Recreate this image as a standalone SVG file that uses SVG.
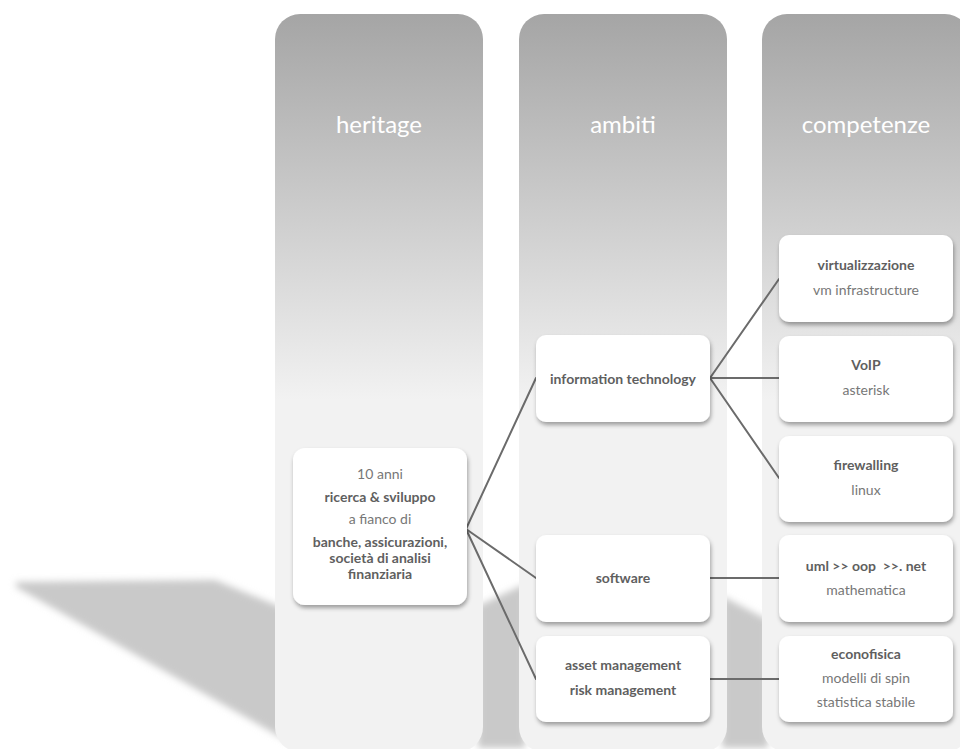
<svg xmlns="http://www.w3.org/2000/svg" width="960" height="749" viewBox="0 0 960 749">
<defs>
<linearGradient id="colGrad" gradientUnits="userSpaceOnUse" x1="0" y1="14" x2="0" y2="400">
<stop offset="0" stop-color="#a5a5a5"/>
<stop offset="1" stop-color="#f2f2f2"/>
</linearGradient>
<filter id="blur" x="-20%" y="-20%" width="140%" height="140%">
<feGaussianBlur stdDeviation="3.5"/>
</filter>
<filter id="boxShadow" x="-10%" y="-10%" width="120%" height="130%">
<feDropShadow dx="1" dy="3" stdDeviation="2" flood-color="#000" flood-opacity="0.35"/>
</filter>
</defs>
<style>
.col{fill:url(#colGrad);}
.head{font-family:Lato,"Open Sans",sans-serif;font-size:24px;fill:#ffffff;text-anchor:middle;}
.box{fill:#ffffff;filter:url(#boxShadow);}
.t{font-family:Lato,"Open Sans",sans-serif;font-size:14px;fill:#777777;text-anchor:middle;}
.b{font-weight:bold;fill:#5f5f5f;}
.shadow{fill:#c9c9c9;filter:url(#blur);}
.conn{stroke:#6b6b6b;stroke-width:2;fill:none;stroke-linecap:round;}
</style>
<rect width="960" height="749" fill="#ffffff"/>
<g id="shadows">
<polygon class="shadow" points="16,582 215,580 300,615 300,748 16,587"/>
<polygon class="shadow" points="478,606 525,584 525,748 478,748"/>
<polygon class="shadow" points="722,596 768,620 768,748 722,748"/>
</g>
<g id="col-heritage">
<path class="col" d="M275,39 a25,25 0 0 1 25,-25 h158 a25,25 0 0 1 25,25 v688 a25,25 0 0 1 -25,25 h-158 a25,25 0 0 1 -25,-25 z"/>
<text class="head" x="379" y="133">heritage</text>
</g>
<g id="col-ambiti">
<path class="col" d="M519,39 a25,25 0 0 1 25,-25 h158 a25,25 0 0 1 25,25 v688 a25,25 0 0 1 -25,25 h-158 a25,25 0 0 1 -25,-25 z"/>
<text class="head" x="623" y="133">ambiti</text>
</g>
<g id="col-competenze">
<path class="col" d="M762,39 a25,25 0 0 1 25,-25 h158 a25,25 0 0 1 25,25 v688 a25,25 0 0 1 -25,25 h-158 a25,25 0 0 1 -25,-25 z"/>
<text class="head" x="866" y="133">competenze</text>
</g>
<g id="connectors">
<line class="conn" x1="466" y1="529" x2="536" y2="378"/>
<line class="conn" x1="466" y1="529" x2="536" y2="578"/>
<line class="conn" x1="466" y1="529" x2="536" y2="679"/>
<line class="conn" x1="710" y1="378" x2="779" y2="279"/>
<line class="conn" x1="710" y1="378" x2="779" y2="378"/>
<line class="conn" x1="710" y1="378" x2="779" y2="478"/>
<line class="conn" x1="710" y1="578" x2="779" y2="578"/>
<line class="conn" x1="710" y1="679" x2="779" y2="679"/>
</g>
<g id="node-heritage">
<rect class="box" x="293" y="448" width="174" height="157" rx="12"/>
<text class="t" x="380" y="479">10 anni</text>
<text class="t b" x="380" y="502">ricerca &amp; sviluppo</text>
<text class="t" x="380" y="524">a fianco di</text>
<text class="t b" x="380" y="547">banche, assicurazioni,</text>
<text class="t b" x="380" y="563">società di analisi</text>
<text class="t b" x="380" y="579">finanziaria</text>
</g>
<g id="node-it">
<rect class="box" x="536" y="335" width="174" height="87" rx="10"/>
<text class="t b" x="623" y="384">information technology</text>
</g>
<g id="node-software">
<rect class="box" x="536" y="535" width="174" height="87" rx="10"/>
<text class="t b" x="623" y="583">software</text>
</g>
<g id="node-asset">
<rect class="box" x="536" y="636" width="174" height="86" rx="10"/>
<text class="t b" x="623" y="670">asset management</text>
<text class="t b" x="623" y="695">risk management</text>
</g>
<g id="node-virt">
<rect class="box" x="779" y="235" width="174" height="87" rx="10"/>
<text class="t b" x="866" y="270">virtualizzazione</text>
<text class="t" x="866" y="295">vm infrastructure</text>
</g>
<g id="node-voip">
<rect class="box" x="779" y="336" width="174" height="86" rx="10"/>
<text class="t b" x="866" y="370">VoIP</text>
<text class="t" x="866" y="395">asterisk</text>
</g>
<g id="node-fw">
<rect class="box" x="779" y="436" width="174" height="86" rx="10"/>
<text class="t b" x="866" y="470">firewalling</text>
<text class="t" x="866" y="495">linux</text>
</g>
<g id="node-uml">
<rect class="box" x="779" y="535" width="174" height="87" rx="10"/>
<text class="t b" x="866" y="571" xml:space="preserve">uml &gt;&gt; oop  &gt;&gt;. net</text>
<text class="t" x="866" y="595">mathematica</text>
</g>
<g id="node-econo">
<rect class="box" x="779" y="636" width="174" height="86" rx="10"/>
<text class="t b" x="866" y="659">econofisica</text>
<text class="t" x="866" y="683">modelli di spin</text>
<text class="t" x="866" y="707">statistica stabile</text>
</g>
</svg>
